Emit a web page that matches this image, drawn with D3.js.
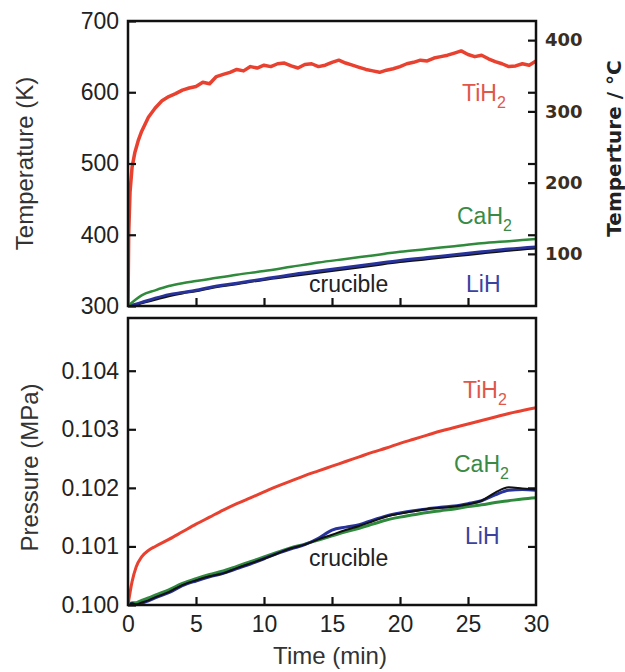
<!DOCTYPE html>
<html><head><meta charset="utf-8">
<script src="https://cdn.jsdelivr.net/npm/d3@7"></script>
<style>body{margin:0;background:#fff}svg{display:block}</style>
</head><body>
<script>
// ---- data ----
const timeTiTop = [0,0.05,0.15,0.3,0.5,0.75,1,1.5,2,2.5,3,3.5,4,4.5,5,5.5,6,6.5,7,7.5,8,8.5,9,9.5,10,10.5,11,11.5,12,12.5,13,13.5,14,14.5,15,15.5,16,16.5,17,17.5,18,18.5,19,19.5,20,20.5,21,21.5,22,22.5,23,23.5,24,24.5,25,25.5,26,26.5,27,27.5,28,28.5,29,29.5,30];
const tiH2Temp = [300,400,460,495,515,532,545,565,578,588,594,598,603,606,608,614,612,622,625,628,632,630,636,634,638,636,640,641,637,634,639,640,636,638,642,645,641,638,635,632,630,628,631,633,636,640,642,645,644,648,650,652,655,658,653,650,652,647,643,640,636,637,640,638,644];
const timeTop = [0,0.5,1,2,3,4,5,6,8,10,12,14,16,18,20,22,24,26,28,30];
const caH2Temp = [300,308,315,322,328,332,335,338,344,349,355,361,366,371,376,380,384,388,391,394];
const liHTemp = [300,302,305,311,316,319,322,326,332,338,344,349,354,359,364,368,372,376,380,383];
const crucibleTemp = [300,301,304,309,314,318,321,325,331,337,342,347,352,357,362,366,370,374,378,381];

const timeP = [0,0.3,0.6,1,1.5,2,3,4,5,6,7,8,9,10,11,12,13,14,15,16,17,18,19,20,21,22,23,24,25,26,27,28,29,30];
const tiH2P = [0.1000,0.10040,0.10065,0.10082,0.10093,0.10100,0.10112,0.10125,0.10138,0.10150,0.10162,0.10173,0.10183,0.10193,0.10203,0.10212,0.10221,0.10229,0.10237,0.10245,0.10253,0.10261,0.10268,0.10276,0.10283,0.10290,0.10297,0.10303,0.10309,0.10315,0.10321,0.10327,0.10332,0.10337];
const caH2P = [0.1000,0.10004,0.10004,0.10008,0.10012,0.10017,0.10026,0.10037,0.10045,0.10052,0.10058,0.10066,0.10074,0.10082,0.10090,0.10098,0.10104,0.10111,0.10118,0.10125,0.10131,0.10138,0.10145,0.10150,0.10154,0.10158,0.10161,0.10164,0.10168,0.10171,0.10175,0.10178,0.10181,0.10183];
const liHP = [0.1000,0.10002,0.10000,0.10003,0.10007,0.10012,0.10021,0.10033,0.10041,0.10048,0.10054,0.10062,0.10070,0.10079,0.10088,0.10096,0.10103,0.10114,0.10128,0.10133,0.10137,0.10145,0.10152,0.10157,0.10161,0.10164,0.10167,0.10169,0.10173,0.10178,0.10188,0.10196,0.10197,0.10196];
const crucibleP = [0.1000,0.10003,0.10001,0.10004,0.10008,0.10013,0.10022,0.10034,0.10042,0.10049,0.10054,0.10063,0.10071,0.10079,0.10088,0.10097,0.10103,0.10112,0.10120,0.10128,0.10135,0.10143,0.10151,0.10156,0.10160,0.10164,0.10166,0.10168,0.10172,0.10178,0.10192,0.10201,0.10199,0.10197];

const xTicks = [0,5,10,15,20,25,30];
const kTicks = [300,400,500,600,700];
const cTicks = [100,200,300,400];
const pTicks = [0.100,0.101,0.102,0.103,0.104];

// ---- layout ----
const W = 625, H = 672;
const L = 128, R = 536;
const topY0 = 21, topY1 = 306;
const botY0 = 318, botY1 = 605;
const RED = "#e8412f", GREEN = "#2f8a3c", BLUE = "#27339a", BLACK = "#111";
const FONT = "Arial, 'Liberation Sans', Helvetica, sans-serif";
const BFONT = "'DejaVu Sans', sans-serif";

const svg = d3.select("body").append("svg").attr("width", W).attr("height", H)
  .style("font-family", FONT);

const x = d3.scaleLinear().domain([0,30]).range([L,R]);
const yK = d3.scaleLinear().domain([300,700]).range([topY1, topY0]);
const yP = d3.scaleLinear().domain([0.100,0.1049]).range([botY1, botY0]);

const defs = svg.append("defs");
defs.append("clipPath").attr("id","clipTop").append("rect")
  .attr("x", L).attr("y", topY0).attr("width", R-L).attr("height", topY1-topY0);
defs.append("clipPath").attr("id","clipBot").append("rect")
  .attr("x", L).attr("y", botY0).attr("width", R-L).attr("height", botY1-botY0);

function drawLine(g, times, vals, yScale, color, w, curve) {
  const data = times.map((t,i)=>[t, vals[i]]);
  g.append("path").datum(data)
    .attr("fill","none").attr("stroke",color).attr("stroke-width",w)
    .attr("stroke-linejoin","round").attr("stroke-linecap","round")
    .attr("d", d3.line().x(d=>x(d[0])).y(d=>yScale(d[1])).curve(curve || d3.curveMonotoneX));
}

// ---- top panel ----
const gTop = svg.append("g").attr("clip-path","url(#clipTop)");
drawLine(gTop, timeTop, crucibleTemp, yK, BLACK, 2.5);
drawLine(gTop, timeTop, liHTemp, yK, BLUE, 3);
drawLine(gTop, timeTop, caH2Temp, yK, GREEN, 2.5);
drawLine(gTop, timeTiTop, tiH2Temp, yK, RED, 3.5, d3.curveLinear);

// ---- bottom panel ----
const gBot = svg.append("g").attr("clip-path","url(#clipBot)");
drawLine(gBot, timeP, caH2P, yP, GREEN, 3);
drawLine(gBot, timeP, liHP, yP, BLUE, 3);
drawLine(gBot, timeP, crucibleP, yP, BLACK, 2);
drawLine(gBot, timeP, tiH2P, yP, RED, 3);

// ---- axes ----
const tickLen = 8;
function styleAxis(g) {
  g.select(".domain").remove();
  g.selectAll(".tick line").attr("stroke","#111").attr("stroke-width",2.2);
  g.selectAll(".tick text").attr("fill","#222").style("font-size","23px").style("font-family",FONT);
}
// top panel
svg.append("g").attr("transform",`translate(${L},0)`)
  .call(d3.axisLeft(yK).tickValues(kTicks).tickSize(-tickLen).tickPadding(9).tickFormat(d3.format("d")))
  .call(styleAxis);
svg.append("g").attr("transform",`translate(${R},0)`)
  .call(d3.axisRight(yK).tickValues(kTicks.slice(1,4)).tickSize(-tickLen).tickFormat(""))
  .call(styleAxis);
const yC = d3.scaleLinear().domain([300-273.15,700-273.15]).range([topY1, topY0]);
const rAx = svg.append("g").attr("transform",`translate(${R},0)`)
  .call(d3.axisRight(yC).tickValues(cTicks).tickSize(-tickLen).tickPadding(9).tickFormat(d3.format("d")))
  .call(styleAxis);
rAx.selectAll(".tick text").attr("fill","#3a2e22").style("font-weight","bold")
  .style("font-family",BFONT).style("font-size","18px");
svg.append("g").attr("transform",`translate(0,${topY1})`)
  .call(d3.axisBottom(x).tickValues(xTicks.slice(1,6)).tickSize(-tickLen).tickFormat(""))
  .call(styleAxis);

// bottom panel
svg.append("g").attr("transform",`translate(${L},0)`)
  .call(d3.axisLeft(yP).tickValues(pTicks).tickSize(-tickLen).tickPadding(9).tickFormat(d3.format(".3f")))
  .call(styleAxis);
svg.append("g").attr("transform",`translate(${R},0)`)
  .call(d3.axisRight(yP).tickValues(pTicks.slice(1)).tickSize(-tickLen).tickFormat(""))
  .call(styleAxis);
svg.append("g").attr("transform",`translate(0,${botY1})`)
  .call(d3.axisBottom(x).tickValues(xTicks).tickSize(-tickLen).tickPadding(11).tickFormat(d3.format("d")))
  .call(styleAxis)
  .call(g=>g.selectAll(".tick line").filter(d=>d===0||d===30).remove());

// frames
[[topY0,topY1],[botY0,botY1]].forEach(([a,b])=>{
  svg.append("rect").attr("x",L).attr("y",a).attr("width",R-L).attr("height",b-a)
    .attr("fill","none").attr("stroke","#111").attr("stroke-width",2.5);
});

// axis titles
svg.append("text").attr("transform",`translate(33,${(topY0+topY1)/2}) rotate(-90)`)
  .attr("text-anchor","middle").attr("fill","#333").style("font-size","24px").text("Temperature (K)");
svg.append("text").attr("transform",`translate(38,${(botY0+botY1)/2+6}) rotate(-90)`)
  .attr("text-anchor","middle").attr("fill","#333").style("font-size","24px").text("Pressure (MPa)");
svg.append("text").attr("x",(L+R)/2-2).attr("y",664)
  .attr("text-anchor","middle").attr("fill","#333").style("font-size","24px").text("Time (min)");
svg.append("text").attr("transform",`translate(621,${(topY0+topY1)/2-15}) rotate(-90)`)
  .attr("text-anchor","middle").attr("fill","#222").style("font-size","20px").style("font-weight","bold")
  .style("font-family",BFONT).text("Temperture / °C");

// series labels
function label(px, py, base, sub, color) {
  const t = svg.append("text").attr("x",px).attr("y",py).attr("fill",color).style("font-size","23px");
  t.append("tspan").text(base);
  if (sub) t.append("tspan").attr("dy",7).style("font-size","16px").text(sub);
}
label(462, 101, "TiH", "2", "#e0574a");
label(457, 224, "CaH", "2", "#3a8a45");
label(309, 292, "crucible", null, "#222");
label(466, 292, "LiH", null, "#3a43a0");
label(463, 398, "TiH", "2", "#e0574a");
label(454, 472, "CaH", "2", "#3a8a45");
label(465, 544, "LiH", null, "#3a43a0");
label(309, 566, "crucible", null, "#222");
</script>
</body></html>
